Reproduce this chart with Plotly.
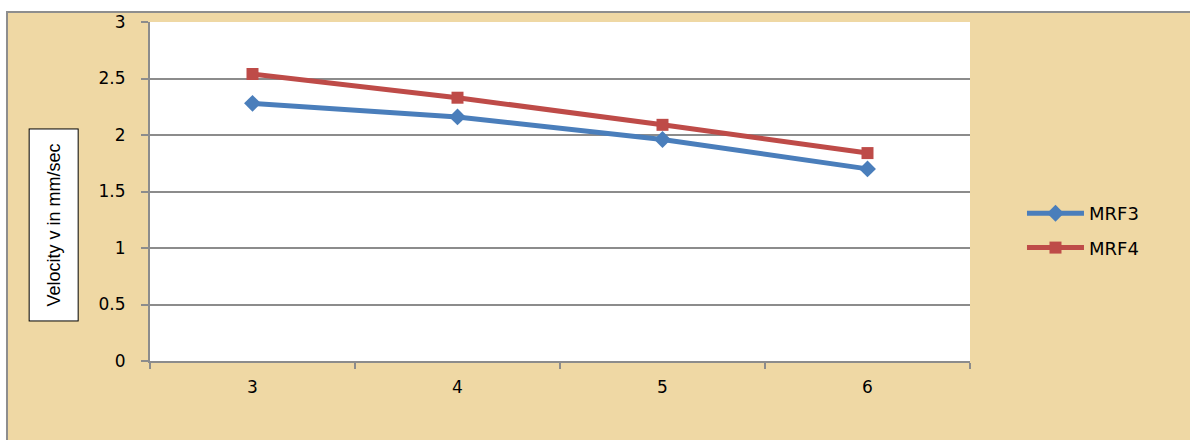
import plotly.graph_objects as go

categories = ["3", "4", "5", "6"]
mrf3 = [2.28, 2.16, 1.96, 1.70]
mrf4 = [2.54, 2.33, 2.09, 1.84]
y_ticks = [0, 0.5, 1, 1.5, 2, 2.5, 3]
y_title = "Velocity v in mm/sec"

PARCH = "#EFD8A4"
GRID = "#8C8C8C"
FONT = "Liberation Sans, Arial, sans-serif"
TICKFONT = "DejaVu Sans, Liberation Sans, sans-serif"

fig = go.Figure()
fig.add_trace(go.Scatter(
    x=categories, y=mrf3, name="MRF3", mode="lines+markers",
    line=dict(color="#4A7EBB", width=5),
    marker=dict(symbol="diamond", size=13, color="#4A7EBB"),
    legendgroup="a",
))
fig.add_trace(go.Scatter(
    x=categories, y=mrf4, name="MRF4", mode="lines+markers",
    line=dict(color="#BE4B48", width=5),
    marker=dict(symbol="square", size=12, color="#BE4B48"),
    legendgroup="b",
))

fig.update_layout(
    width=1190, height=440,
    margin=dict(l=150, r=220, t=22, b=79),
    paper_bgcolor="white",
    plot_bgcolor="white",
    font=dict(family=FONT, size=17, color="#000000"),
    showlegend=True,
    legend=dict(
        x=1.0634, y=0.385, xanchor="left", yanchor="middle",
        bgcolor="rgba(0,0,0,0)", font=dict(size=18, family=TICKFONT),
        tracegroupgap=8, itemwidth=57,
    ),
    xaxis=dict(
        type="category", tickson="boundaries", showgrid=False,
        range=[-0.5, 3.5],
        showline=True, linecolor=GRID, linewidth=2,
        ticks="outside", ticklen=6, tickcolor=GRID, tickwidth=1.5,
        ticklabelstandoff=10, tickfont=dict(size=17, family=TICKFONT),
        zeroline=False, fixedrange=True,
    ),
    yaxis=dict(
        range=[0, 3], tickvals=y_ticks, ticktext=[f"{v:g}" for v in y_ticks],
        showgrid=True, gridcolor=GRID, gridwidth=1.5,
        showline=True, linecolor=GRID, linewidth=2,
        ticks="outside", ticklen=7, tickcolor=GRID, tickwidth=1.5,
        ticklabelstandoff=12, tickfont=dict(size=17, family=TICKFONT),
        zeroline=False,
    ),
    shapes=[
        dict(type="rect", xref="paper", yref="paper",
             x0=-0.1744, x1=1.32, y0=-0.35, y1=1.0295,
             fillcolor=PARCH, line=dict(color="#8E8E8E", width=2), layer="below"),
        dict(type="rect", xref="paper", yref="paper",
             x0=0, x1=1, y0=0, y1=1,
             fillcolor="white", line=dict(width=0), layer="below"),
    ],
    annotations=[
        dict(text=y_title, textangle=-90, xref="paper", yref="paper",
             x=-0.117, y=0.40, xanchor="center", yanchor="middle",
             showarrow=False, bgcolor="white", bordercolor="#000000",
             borderwidth=1, borderpad=14,
             font=dict(family=FONT, size=18, color="#000000")),
    ],
)

fig.write_html("out.html")
